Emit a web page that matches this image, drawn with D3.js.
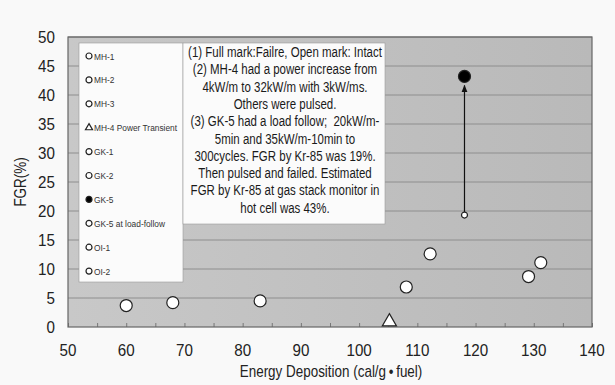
<!DOCTYPE html>
<html>
<head>
<meta charset="utf-8">
<script src="https://cdn.jsdelivr.net/npm/d3@7"></script>
<style>
  body { margin: 0; background: #f9f9f9; }
  svg { font-family: "Liberation Sans", Arial, sans-serif; }
  .note { white-space: pre; }
</style>
</head>
<body>
<div id="chart"></div>
<script>
// data
const energy = [60, 68, 83, 105.2, 108.1, 112.2, 118.1, 118.1, 129.1, 131.2];
const fgr    = [3.7, 4.2, 4.5, 0.9, 6.9, 12.6, 19.3, 43.2, 8.7, 11.1];
const kind   = ["open", "open", "open", "triangle", "open", "open", "small", "filled", "open", "open"];

const legendLabels = ["MH-1", "MH-2", "MH-3", "MH-4 Power Transient", "GK-1", "GK-2", "GK-5", "GK-5 at load-follow", "OI-1", "OI-2"];
const legendKinds  = ["open", "open", "open", "triangle", "open", "open", "filled", "open", "open", "open"];

const noteLines = [
  "(1) Full mark:Failre, Open mark: Intact",
  "(2) MH-4 had a power increase from",
  "4kW/m to 32kW/m with 3kW/ms.",
  "Others were pulsed.",
  "(3) GK-5 had a load follow;  20kW/m-",
  "5min and 35kW/m-10min to",
  "300cycles. FGR by Kr-85 was 19%.",
  "Then pulsed and failed. Estimated",
  "FGR by Kr-85 at gas stack monitor in",
  "hot cell was 43%."
];

const xTicks = d3.range(50, 141, 10);
const yTicks = d3.range(0, 51, 5);

const width = 615, height = 385;
const margin = {top: 37, right: 23, bottom: 58, left: 68};
const narrow = 0.84;

const svg = d3.select("#chart").append("svg")
  .attr("width", width)
  .attr("height", height);

const x = d3.scaleLinear().domain([50, 140]).range([margin.left, width - margin.right]);
const y = d3.scaleLinear().domain([0, 50]).range([height - margin.bottom, margin.top]);

const defs = svg.append("defs");
const grad = defs.append("linearGradient").attr("id", "bg").attr("x1", 0).attr("x2", 1).attr("y1", 0).attr("y2", 0);
grad.append("stop").attr("offset", "0%").attr("stop-color", "#c8c8c8");
grad.append("stop").attr("offset", "100%").attr("stop-color", "#b9b9b9");

defs.append("marker")
  .attr("id", "arrow")
  .attr("viewBox", "0 0 10 10")
  .attr("refX", 9).attr("refY", 5)
  .attr("markerWidth", 6).attr("markerHeight", 6)
  .attr("orient", "auto")
  .append("path")
  .attr("d", "M0,1 L10,5 L0,9 Z")
  .attr("fill", "#111");

// plot area
svg.append("rect")
  .attr("x", x(50)).attr("y", y(50))
  .attr("width", x(140) - x(50)).attr("height", y(0) - y(50))
  .attr("fill", "url(#bg)");

// gridlines
svg.append("g")
  .selectAll("line")
  .data(yTicks.slice(1))
  .join("line")
    .attr("x1", x(50)).attr("x2", x(140))
    .attr("y1", d => y(d)).attr("y2", d => y(d))
    .attr("stroke", "#8e8e8e")
    .attr("stroke-width", 1);

// x axis with small inward ticks every 5
const gX = svg.append("g")
  .attr("transform", `translate(0,${y(0)})`)
  .call(d3.axisBottom(x).tickValues(d3.range(50, 141, 5)).tickSize(-4).tickFormat(""));
gX.select(".domain").remove();
gX.selectAll(".tick line").attr("stroke", "#777");

svg.append("g")
  .selectAll("text")
  .data(xTicks)
  .join("text")
    .attr("transform", d => `translate(${x(d)},${y(0) + 29}) scale(0.92,1)`)
    .attr("text-anchor", "middle")
    .attr("font-size", 16.5)
    .attr("fill", "#222")
    .text(d => d);

svg.append("g")
  .selectAll("text")
  .data(yTicks)
  .join("text")
    .attr("transform", d => `translate(${margin.left - 13},${y(d) + 6}) scale(0.92,1)`)
    .attr("text-anchor", "end")
    .attr("font-size", 16.5)
    .attr("fill", "#222")
    .text(d => d);

// plot border
svg.append("rect")
  .attr("x", x(50)).attr("y", y(50))
  .attr("width", x(140) - x(50)).attr("height", y(0) - y(50))
  .attr("fill", "none")
  .attr("stroke", "#666")
  .attr("stroke-width", 1.2);

// axis titles
svg.append("text")
  .attr("transform", `translate(26,${(y(0) + y(50)) / 2}) rotate(-90) scale(${narrow},1)`)
  .attr("text-anchor", "middle")
  .attr("font-size", 16)
  .attr("fill", "#222")
  .text("FGR(%)");

svg.append("text")
  .attr("transform", `translate(331,377) scale(${narrow},1)`)
  .attr("text-anchor", "middle")
  .attr("font-size", 16)
  .attr("fill", "#222")
  .text("Energy Deposition (cal/g\u2009\u2022\u2009fuel)");

// legend box
const legend = svg.append("g");
legend.append("rect")
  .attr("x", 79).attr("y", 43)
  .attr("width", 104).attr("height", 239)
  .attr("fill", "#fbfbfb")
  .attr("stroke", "#999")
  .attr("stroke-width", 0.6);

const drawMark = (sel, k, r) => {
  if (k === "triangle") {
    sel.append("path")
      .attr("d", d3.symbol(d3.symbolTriangle, r * r * 2.4)())
      .attr("fill", "white")
      .attr("stroke", "#222")
      .attr("stroke-width", 1.2);
  } else {
    sel.append("circle")
      .attr("r", r)
      .attr("fill", k === "filled" ? "#000" : "white")
      .attr("stroke", "#222")
      .attr("stroke-width", 1.2);
  }
};

const items = legend.selectAll("g.item")
  .data(legendLabels)
  .join("g")
    .attr("class", "item")
    .attr("transform", (d, i) => `translate(89,${56 + i * 23.9})`);
items.each(function(d, i) { drawMark(d3.select(this), legendKinds[i], 3); });
items.append("text")
  .attr("transform", "translate(5,3.5) scale(0.88,1)")
  .attr("font-size", 9.5)
  .attr("fill", "#333")
  .text(d => d);

// note box
svg.append("rect")
  .attr("x", 183).attr("y", 43)
  .attr("width", 202).attr("height", 181)
  .attr("fill", "#fbfbfb")
  .attr("stroke", "#999")
  .attr("stroke-width", 0.6);

svg.append("g")
  .selectAll("text")
  .data(noteLines)
  .join("text")
    .attr("class", "note")
    .attr("transform", (d, i) => `translate(285,${57 + i * 17.3}) scale(0.82,1)`)
    .attr("text-anchor", "middle")
    .attr("font-size", 14)
    .attr("fill", "#1a1a1a")
    .text(d => d);

// arrow from load-follow point to failed point
const iLoad = kind.indexOf("small"), iFail = kind.indexOf("filled");
svg.append("line")
  .attr("x1", x(energy[iLoad])).attr("y1", y(fgr[iLoad]) - 3)
  .attr("x2", x(energy[iFail])).attr("y2", y(fgr[iFail]) + 9)
  .attr("stroke", "#111")
  .attr("stroke-width", 1.2)
  .attr("marker-end", "url(#arrow)");

// points
const pts = svg.append("g")
  .selectAll("g")
  .data(energy)
  .join("g")
    .attr("transform", (d, i) => `translate(${x(d)},${y(fgr[i])})`);
pts.each(function(d, i) {
  const k = kind[i];
  drawMark(d3.select(this), k === "small" ? "open" : k, k === "small" ? 3 : 6);
});
</script>
</body>
</html>
